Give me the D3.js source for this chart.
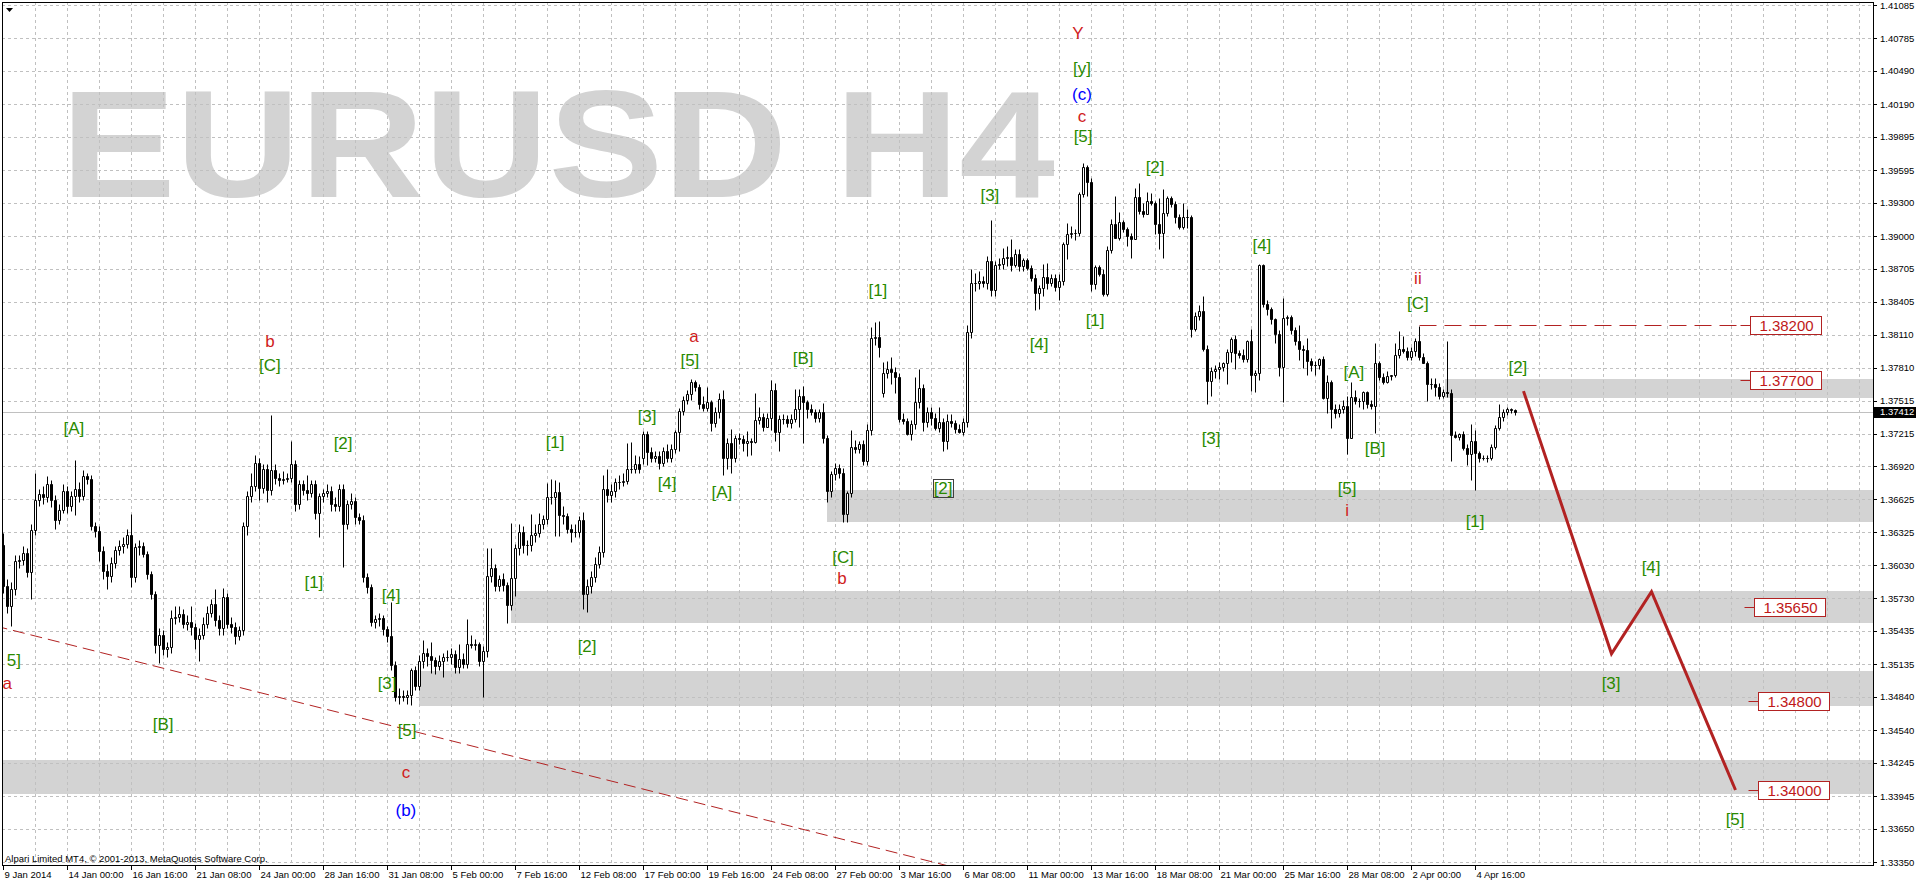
<!DOCTYPE html>
<html><head><meta charset="utf-8">
<script src="https://cdn.jsdelivr.net/npm/d3@7/dist/d3.min.js"></script>
<style>html,body{margin:0;padding:0;background:#fff;overflow:hidden}text{font-family:"Liberation Sans",Arial,sans-serif}</style>
</head><body><svg id="c" width="1916" height="884"></svg>
<script>
// ---- EURUSD H4 candles, prices in units of 0.0001 (pips) ----
const open = [
13621,13584,13566,13581,13607,13608,13614,13597,13635,13662,
13667,13664,13676,13662,13644,13653,13670,13656,13665,13672,
13665,13683,13681,13638,13634,13616,13598,13593,13605,13617,
13620,13622,13630,13592,13619,13620,13613,13595,13577,13531,
13540,13527,13529,13555,13556,13559,13550,13552,13547,13536,
13540,13550,13560,13568,13553,13546,13574,13550,13547,13539,
13544,13638,13665,13674,13695,13673,13690,13671,13689,13682,
13680,13681,13682,13694,13658,13676,13671,13668,13676,13650,
13665,13668,13670,13658,13656,13672,13640,13658,13661,13646,
13644,13592,13583,13552,13554,13555,13545,13539,13513,13484,
13485,13484,13486,13508,13494,13516,13524,13521,13517,13512,
13516,13520,13520,13523,13511,13518,13514,13532,13531,13532,
13516,13525,13593,13600,13584,13590,13585,13567,13591,13618,
13633,13621,13621,13630,13632,13640,13645,13664,13664,13669,
13648,13647,13636,13633,13633,13644,13577,13584,13592,13604,
13615,13672,13666,13670,13678,13678,13679,13690,13690,13694,
13700,13721,13705,13700,13701,13695,13706,13700,13708,13723,
13742,13752,13757,13768,13764,13748,13745,13750,13731,13741,
13753,13700,13713,13700,13718,13717,13713,13715,13714,13734,
13737,13728,13736,13761,13723,13735,13735,13731,13735,13744,
13756,13750,13744,13741,13736,13741,13718,13670,13685,13691,
13686,13649,13668,13710,13708,13712,13697,13725,13808,13809,
13758,13776,13780,13777,13773,13735,13733,13721,13730,13750,
13763,13732,13741,13736,13727,13732,13715,13733,13731,13726,
13723,13732,13813,13858,13858,13859,13858,13877,13851,13874,
13875,13880,13881,13874,13884,13873,13878,13871,13862,13849,
13853,13863,13858,13862,13854,13859,13893,13902,13903,13903,
13938,13962,13949,13857,13872,13866,13848,13887,13911,13898,
13913,13906,13900,13897,13935,13923,13920,13932,13930,13911,
13903,13921,13934,13929,13917,13908,13917,13917,13816,13828,
13832,13798,13769,13778,13780,13782,13785,13795,13807,13794,
13793,13789,13805,13775,13776,13874,13839,13834,13825,13812,
13782,13826,13827,13815,13805,13798,13797,13787,13784,13784,
13789,13754,13768,13744,13740,13744,13747,13718,13755,13751,
13751,13759,13748,13747,13785,13773,13768,13774,13775,13793,
13798,13796,13791,13796,13805,13791,13785,13766,13766,13764,
13756,13759,13758,13720,13719,13721,13709,13703,13715,13704,
13700,13700,13700,13710,13727,13737,13741,13744,13743];
const high = [
13632,13590,13588,13612,13612,13620,13618,13640,13686,13672,
13674,13683,13680,13666,13658,13676,13674,13670,13698,13678,
13689,13686,13684,13642,13638,13620,13604,13610,13620,13626,
13628,13636,13649,13623,13626,13624,13616,13598,13580,13546,
13544,13534,13562,13566,13566,13563,13558,13566,13551,13546,
13556,13566,13572,13581,13558,13582,13578,13556,13552,13548,
13642,13670,13686,13702,13700,13694,13694,13738,13694,13686,
13688,13686,13715,13698,13680,13680,13684,13680,13680,13668,
13672,13676,13674,13664,13676,13676,13662,13668,13664,13650,
13648,13596,13586,13558,13560,13558,13548,13570,13516,13492,
13490,13490,13510,13512,13522,13535,13528,13534,13520,13522,
13524,13526,13528,13526,13532,13524,13554,13540,13536,13534,
13530,13618,13618,13604,13594,13596,13588,13641,13622,13640,
13638,13626,13649,13640,13650,13648,13677,13681,13680,13678,
13656,13650,13640,13640,13647,13651,13590,13598,13610,13620,
13684,13690,13676,13682,13684,13686,13713,13714,13702,13701,
13724,13724,13710,13706,13706,13710,13712,13712,13725,13745,
13756,13761,13771,13770,13766,13756,13764,13752,13746,13758,
13761,13718,13726,13720,13722,13720,13724,13718,13758,13746,
13740,13740,13770,13767,13738,13739,13738,13739,13762,13762,
13765,13752,13748,13744,13744,13749,13720,13688,13695,13694,
13691,13670,13725,13716,13715,13716,13730,13818,13822,13823,
13786,13787,13791,13782,13776,13740,13736,13734,13773,13780,
13766,13746,13746,13740,13746,13736,13739,13739,13734,13730,
13736,13820,13870,13867,13868,13864,13882,13914,13877,13880,
13889,13891,13897,13888,13888,13880,13880,13874,13866,13856,
13875,13876,13866,13866,13866,13895,13912,13909,13906,13940,
13966,13964,13952,13874,13874,13870,13891,13915,13936,13922,
13914,13908,13903,13943,13948,13930,13940,13939,13932,13934,
13942,13936,13936,13932,13920,13930,13924,13919,13831,13838,
13846,13802,13782,13784,13786,13786,13798,13809,13811,13797,
13798,13806,13816,13779,13875,13875,13842,13836,13826,13815,
13844,13829,13829,13818,13820,13802,13808,13790,13787,13790,
13792,13775,13770,13748,13748,13752,13756,13768,13761,13754,
13760,13760,13752,13803,13787,13776,13778,13775,13803,13814,
13810,13800,13800,13808,13819,13794,13787,13772,13772,13767,
13762,13805,13762,13724,13722,13724,13712,13730,13725,13706,
13702,13702,13712,13729,13748,13744,13746,13745,13744];
const low = [
13578,13560,13548,13576,13600,13603,13592,13572,13630,13656,
13658,13660,13655,13636,13640,13650,13650,13652,13648,13660,
13662,13676,13635,13628,13607,13590,13581,13588,13600,13612,
13614,13618,13583,13588,13612,13610,13590,13572,13524,13515,
13522,13520,13524,13550,13552,13546,13544,13540,13527,13516,
13536,13546,13556,13548,13540,13540,13546,13542,13532,13535,
13540,13630,13660,13670,13662,13668,13660,13666,13676,13674,
13676,13678,13678,13652,13654,13666,13662,13664,13645,13628,
13660,13664,13652,13652,13652,13601,13636,13654,13640,13640,
13588,13578,13548,13546,13548,13540,13534,13508,13480,13478,
13480,13478,13477,13490,13490,13510,13512,13506,13505,13508,
13502,13516,13514,13506,13506,13510,13510,13528,13526,13512,
13484,13520,13588,13580,13580,13580,13551,13562,13575,13612,
13614,13612,13616,13624,13628,13636,13640,13658,13629,13629,
13640,13632,13624,13628,13628,13563,13561,13578,13588,13600,
13610,13660,13660,13664,13672,13674,13676,13686,13686,13686,
13694,13693,13696,13696,13690,13692,13696,13696,13704,13706,
13738,13748,13752,13760,13744,13742,13742,13724,13728,13736,
13684,13690,13686,13696,13712,13706,13701,13702,13713,13730,
13724,13728,13725,13715,13706,13730,13728,13727,13732,13728,
13713,13736,13738,13732,13732,13713,13660,13664,13680,13682,
13642,13642,13664,13704,13704,13693,13693,13720,13802,13791,
13755,13772,13766,13758,13732,13730,13720,13716,13726,13745,
13724,13728,13729,13725,13723,13706,13708,13728,13722,13722,
13720,13728,13808,13850,13852,13854,13852,13846,13846,13870,
13870,13873,13868,13872,13868,13868,13869,13859,13833,13834,
13846,13852,13855,13850,13842,13856,13879,13898,13896,13900,
13935,13936,13850,13852,13864,13846,13846,13885,13898,13896,
13904,13891,13880,13897,13920,13917,13920,13928,13902,13888,
13880,13918,13926,13912,13906,13906,13907,13809,13814,13824,
13796,13748,13756,13772,13771,13778,13766,13786,13780,13790,
13786,13786,13760,13759,13770,13836,13829,13821,13803,13774,
13750,13820,13812,13802,13788,13781,13775,13778,13775,13780,
13753,13740,13727,13736,13737,13740,13703,13718,13748,13746,
13744,13745,13744,13722,13770,13766,13767,13770,13773,13790,
13794,13788,13788,13792,13788,13785,13751,13762,13756,13753,
13754,13755,13697,13718,13716,13707,13693,13680,13671,13696,
13698,13696,13698,13708,13725,13733,13738,13740,13738];
const close = [
13584,13566,13581,13607,13608,13614,13597,13635,13662,13667,
13664,13676,13662,13644,13653,13670,13656,13665,13672,13665,
13683,13681,13638,13634,13616,13598,13593,13605,13617,13620,
13622,13630,13592,13619,13620,13613,13595,13577,13531,13540,
13527,13529,13555,13556,13559,13550,13552,13547,13536,13540,
13550,13560,13568,13553,13546,13574,13550,13547,13539,13544,
13638,13665,13674,13695,13673,13690,13671,13689,13682,13680,
13681,13682,13694,13658,13676,13671,13668,13676,13650,13665,
13668,13670,13658,13656,13672,13640,13658,13661,13646,13644,
13592,13583,13552,13554,13555,13545,13539,13513,13484,13485,
13484,13486,13508,13494,13516,13524,13521,13517,13512,13516,
13520,13520,13523,13511,13518,13514,13532,13531,13532,13516,
13525,13593,13600,13584,13590,13585,13567,13591,13618,13633,
13621,13621,13630,13632,13640,13645,13664,13664,13669,13648,
13647,13636,13633,13633,13644,13577,13584,13592,13604,13615,
13672,13666,13670,13678,13678,13679,13690,13690,13694,13690,
13721,13705,13700,13701,13695,13706,13700,13708,13723,13742,
13752,13757,13768,13764,13748,13745,13750,13731,13741,13753,
13700,13713,13700,13718,13717,13713,13715,13714,13734,13737,
13728,13736,13761,13723,13735,13735,13731,13735,13744,13756,
13750,13744,13741,13736,13741,13718,13670,13685,13691,13686,
13649,13668,13710,13708,13712,13697,13725,13808,13809,13800,
13776,13780,13777,13773,13735,13733,13721,13730,13750,13763,
13732,13741,13736,13727,13732,13715,13733,13731,13726,13723,
13732,13813,13858,13858,13859,13858,13877,13851,13874,13875,
13880,13881,13874,13884,13873,13878,13871,13862,13849,13853,
13863,13858,13862,13854,13859,13893,13902,13903,13903,13938,
13962,13949,13857,13872,13866,13848,13887,13911,13898,13913,
13906,13900,13897,13935,13923,13920,13932,13930,13911,13903,
13921,13934,13929,13917,13908,13917,13917,13816,13828,13832,
13798,13769,13778,13780,13782,13785,13795,13807,13794,13793,
13789,13805,13775,13776,13874,13839,13834,13825,13812,13782,
13826,13827,13815,13805,13798,13797,13787,13784,13784,13789,
13754,13768,13744,13740,13744,13747,13718,13755,13751,13751,
13759,13748,13747,13785,13773,13768,13774,13775,13793,13798,
13796,13791,13796,13805,13791,13785,13766,13766,13764,13756,
13759,13758,13720,13719,13721,13709,13703,13715,13704,13700,
13700,13700,13710,13727,13737,13741,13744,13743,13741];

const currentPrice = 1.37412;
const priceTicks = [1.41085,1.40785,1.40490,1.40190,1.39895,1.39595,1.39300,1.39000,1.38705,1.38405,1.38110,1.37810,1.37515,1.37215,1.36920,1.36625,1.36325,1.36030,1.35730,1.35435,1.35135,1.34840,1.34540,1.34245,1.33945,1.33650,1.33350];
const dateLabels = ["9 Jan 2014","14 Jan 00:00","16 Jan 16:00","21 Jan 08:00","24 Jan 00:00","28 Jan 16:00","31 Jan 08:00","5 Feb 00:00","7 Feb 16:00","12 Feb 08:00","17 Feb 00:00","19 Feb 16:00","24 Feb 08:00","27 Feb 00:00","3 Mar 16:00","6 Mar 08:00","11 Mar 00:00","13 Mar 16:00","18 Mar 08:00","21 Mar 00:00","25 Mar 16:00","28 Mar 08:00","2 Apr 00:00","4 Apr 16:00"];
const barsPerDateLabel = 16;

// support / resistance zones (pips)
const zoneTop    = [13771,13671,13580,13507,13427];
const zoneBottom = [13754,13642,13551,13476,13396];
const zoneStart  = [360.4,205.9,126.9,103.9,-2];

// marked levels with boxed labels
const levelValues = [1.38200,1.37700,1.35650,1.34800,1.34000];
const levelLabelBar = [436.6,436.6,437.6,438.6,438.6];
const resistStartBar = 354;

// long dashed trend line (bar, pips)
const trendBars = [-2,240];
const trendPrices = [13548,13328];

// projected wave path (bar, pips)
const forecastBars = [380,402,412,433];
const forecastPrices = [13760,13523,13579,13400];

// wave labels (the left-edge "[5]" is shown cut as "5]", as in the original)
const waveText  = ["[A]","[B]","[C]","b","[1]","[2]","[3]","[4]","[5]","c","(b)","5]","a","[1]","[2]","[3]","[4]","[5]","a","[A]","[B]","[C]","b","[1]","[2]","[3]","[4]","[1]","[2]","Y","[y]","(c)","c","[5]","[3]","[4]","ii","[C]","[A]","[B]","[5]","i","[1]","[2]","[3]","[4]","[5]"];
const waveBar   = [17.6,39.9,66.6,66.6,77.6,84.9,95.9,96.9,100.9,100.6,100.6,0.8,0.95,137.9,145.9,160.9,165.9,171.6,172.6,179.6,199.9,209.9,209.6,218.6,234.9,246.6,258.9,272.9,287.9,268.6,269.6,269.6,269.6,269.9,301.9,314.6,353.6,353.6,337.6,342.9,335.9,335.9,367.9,378.6,401.9,411.9,432.9];
const wavePrice = [13727,13460,13784,13805,13588,13713,13497,13576,13454,13416,13382,13517,13497,13714,13530,13738,13677,13788,13810,13669,13790,13610,13591,13851,13673,13937,13803,13824,13962,14083,14052,14028,14008,13990,13718,13892,13862,13840,13777,13709,13673,13653,13643,13782,13497,13601,13374];
const waveKind  = ["g","g","g","r","g","g","g","g","g","r","b","g","r","g","g","g","g","g","r","g","g","g","r","g","g","g","g","g","g","r","g","b","r","g","g","g","r","g","g","g","g","r","g","g","g","g","g"];
const boxedWave = [24];
const leftAnchoredWave = [11];

// ---- drawing ----
const W = 1916, H = 884;
const L = 2, T = 2, R = 1873, B = 865;
const pip = v => v / 10000;
const x = d3.scaleLinear().domain([0, 1]).range([3.5, 7.5]);
const y = d3.scaleLinear().domain([1.33350, 1.41085]).range([862, 5]);
const cr = v => Math.round(v) + 0.5;
const colors = {g: "#2a8a00", r: "#d01c1c", b: "#0000ff"};
const RED = "#b22222";

const svg = d3.select("#c");
svg.append("rect").attr("width", W).attr("height", H).attr("fill", "#fff");
svg.append("defs").append("clipPath").attr("id", "plot")
  .append("rect").attr("x", L + 1).attr("y", T + 1).attr("width", R - L - 1).attr("height", B - T - 1);
const plot = svg.append("g").attr("clip-path", "url(#plot)");

// watermark
plot.append("text").attr("x", 61).attr("y", 197)
  .attr("font-size", 152).attr("font-weight", "bold").attr("fill", "#d3d3d3")
  .attr("textLength", 994).attr("lengthAdjust", "spacingAndGlyphs")
  .text("EURUSD H4");

// zones
plot.selectAll("rect.zone").data(d3.range(zoneTop.length)).join("rect")
  .attr("class", "zone")
  .attr("x", i => Math.round(x(zoneStart[i]))).attr("width", i => R - Math.round(x(zoneStart[i])))
  .attr("y", i => Math.round(y(pip(zoneTop[i])))).attr("height", i => Math.round(y(pip(zoneBottom[i]))) - Math.round(y(pip(zoneTop[i]))))
  .attr("fill", "#d3d3d3");

// grid
plot.selectAll("line.hg").data(priceTicks).join("line").attr("class", "hg")
  .attr("x1", L).attr("x2", R).attr("y1", d => cr(y(d))).attr("y2", d => cr(y(d)))
  .attr("stroke", "#c0c0c0").attr("stroke-dasharray", "3,3");
const vgrid = d3.range(8, 470, 8).filter(i => x(i) < R);
plot.selectAll("line.vg").data(vgrid).join("line").attr("class", "vg")
  .attr("x1", d => x(d)).attr("x2", d => x(d)).attr("y1", T).attr("y2", B)
  .attr("stroke", "#c0c0c0").attr("stroke-dasharray", "3,3");

// current price line
plot.append("line").attr("x1", L).attr("x2", R)
  .attr("y1", cr(y(currentPrice))).attr("y2", cr(y(currentPrice)))
  .attr("stroke", "#c0c0c0");

// trend line
plot.append("line")
  .attr("x1", x(trendBars[0])).attr("y1", y(pip(trendPrices[0])))
  .attr("x2", x(trendBars[1])).attr("y2", y(pip(trendPrices[1])))
  .attr("stroke", RED).attr("stroke-width", 1).attr("stroke-dasharray", "12,6");

// candles
const idx = d3.range(close.length);
plot.selectAll("line.wick").data(idx).join("line").attr("class", "wick")
  .attr("x1", i => x(i)).attr("x2", i => x(i))
  .attr("y1", i => cr(y(pip(high[i])))).attr("y2", i => cr(y(pip(low[i]))))
  .attr("stroke", "#000");
plot.selectAll("path.body").data(idx).join("path").attr("class", "body")
  .attr("d", i => {
    const t = cr(y(pip(Math.max(open[i], close[i]))));
    const b = cr(y(pip(Math.min(open[i], close[i]))));
    const cx = x(i);
    return `M${cx - 1},${t}H${cx + 1}V${b}H${cx - 1}Z`;
  })
  .attr("fill", i => close[i] >= open[i] ? "#fff" : "#000")
  .attr("stroke", "#000");

// resistance dashed line at first level
plot.append("line")
  .attr("x1", x(resistStartBar)).attr("x2", x(levelLabelBar[0]) - 10)
  .attr("y1", cr(y(levelValues[0]))).attr("y2", cr(y(levelValues[0])))
  .attr("stroke", RED).attr("stroke-dasharray", "17,8");

// forecast path
plot.append("path")
  .datum(d3.range(forecastBars.length))
  .attr("d", d3.line().x(i => x(forecastBars[i])).y(i => y(pip(forecastPrices[i]))))
  .attr("fill", "none").attr("stroke", RED).attr("stroke-width", 3);

// level labels
levelValues.forEach((v, i) => {
  const bx = Math.round(x(levelLabelBar[i])) + 0.5, by = cr(y(v));
  plot.append("line").attr("x1", bx - 10).attr("x2", bx).attr("y1", by).attr("y2", by).attr("stroke", RED);
  plot.append("rect").attr("x", bx).attr("y", by - 9).attr("width", 71).attr("height", 18)
    .attr("fill", "#fff").attr("stroke", RED);
  plot.append("text").attr("x", bx + 36).attr("y", by + 5.5).attr("text-anchor", "middle")
    .attr("font-size", 15).attr("fill", "#c01818").text(v.toFixed(5));
});

// wave labels
const wl = plot.selectAll("text.wave").data(d3.range(waveText.length)).join("text").attr("class", "wave")
  .attr("x", i => x(waveBar[i])).attr("y", i => y(pip(wavePrice[i])))
  .attr("dy", "0.36em").attr("text-anchor", i => leftAnchoredWave.includes(i) ? "start" : "middle")
  .attr("font-size", 17).attr("fill", i => colors[waveKind[i]])
  .text(i => waveText[i]);
wl.filter(i => boxedWave.includes(i)).each(function () {
  const bb = this.getBBox();
  plot.append("rect").attr("x", Math.round(bb.x) - 0.5).attr("y", Math.round(bb.y) + 0.5)
    .attr("width", Math.round(bb.width) + 1).attr("height", Math.round(bb.height) - 1)
    .attr("fill", "none").attr("stroke", "#404040");
});

// frame
svg.append("rect").attr("x", L + 0.5).attr("y", T + 0.5).attr("width", R - L).attr("height", B - T)
  .attr("fill", "none").attr("stroke", "#000");

// right price axis
svg.selectAll("line.yt").data(priceTicks).join("line").attr("class", "yt")
  .attr("x1", R).attr("x2", R + 4).attr("y1", d => cr(y(d))).attr("y2", d => cr(y(d))).attr("stroke", "#000");
svg.selectAll("text.yl").data(priceTicks).join("text").attr("class", "yl")
  .attr("x", R + 7).attr("y", d => y(d) + 3.5).attr("font-size", 9.5).attr("fill", "#000")
  .text(d => d.toFixed(5));
svg.append("rect").attr("x", R + 1).attr("y", Math.round(y(currentPrice)) - 5).attr("width", W - R - 1).attr("height", 11).attr("fill", "#000");
svg.append("text").attr("x", R + 7).attr("y", y(currentPrice) + 3.5).attr("font-size", 9.5).attr("fill", "#fff")
  .text(currentPrice.toFixed(5));

// bottom time axis
const dIdx = d3.range(dateLabels.length);
svg.selectAll("line.xt").data(dIdx).join("line").attr("class", "xt")
  .attr("x1", i => x(i * barsPerDateLabel)).attr("x2", i => x(i * barsPerDateLabel))
  .attr("y1", B).attr("y2", B + 5).attr("stroke", "#000");
svg.selectAll("text.xl").data(dIdx).join("text").attr("class", "xl")
  .attr("x", i => x(i * barsPerDateLabel) + 1).attr("y", 878).attr("font-size", 9.5).attr("fill", "#000")
  .text(i => dateLabels[i]);

// misc
svg.append("text").attr("x", 5).attr("y", 862).attr("font-size", 9.5).attr("fill", "#000")
  .text("Alpari Limited MT4, \u00a9 2001-2013, MetaQuotes Software Corp.");
svg.append("path").attr("d", "M6,8H13L9.5,12Z").attr("fill", "#000");
</script>
</body></html>
